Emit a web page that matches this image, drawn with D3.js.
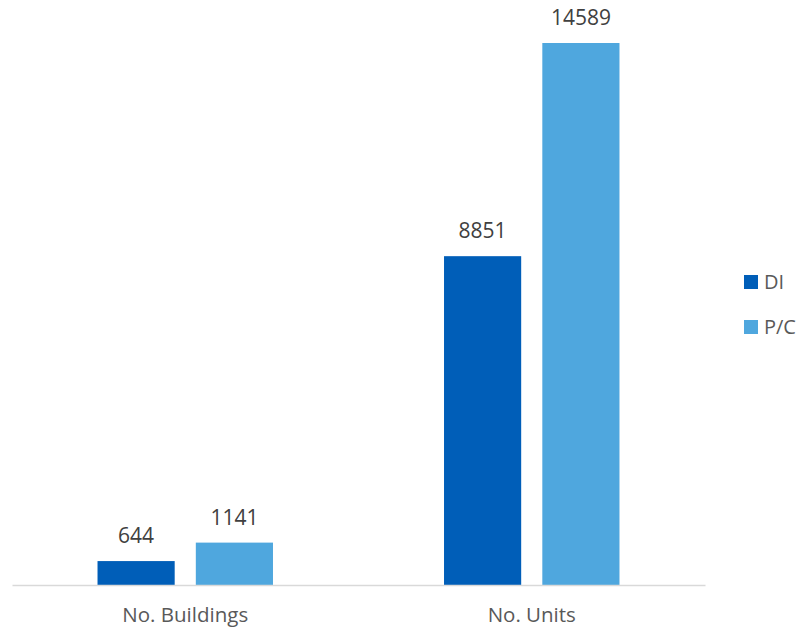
<!DOCTYPE html>
<html>
<head>
<meta charset="utf-8">
<script src="https://cdn.jsdelivr.net/npm/d3@7"></script>
<style>
  html, body { margin: 0; padding: 0; background: #fff; }
  svg { display: block; font-family: "Open Sans", "Noto Sans", sans-serif; }
</style>
</head>
<body>
<svg id="chart" width="799" height="632"></svg>
<script>
const categories = ["No. Buildings", "No. Units"];
const seriesNames = ["DI", "P/C"];
const diValues = [644, 8851];
const pcValues = [1141, 14589];
const seriesColors = ["#005EB8", "#4FA7DE"];

const svg = d3.select("#chart");
const plot = { left: 12, right: 705, top: 43, bottom: 585 };

const x0 = d3.scaleBand().domain(categories).range([plot.left, plot.right]).paddingInner(0).paddingOuter(0);
const x1 = d3.scaleBand().domain(seriesNames).range([0, x0.bandwidth()]).paddingInner(0.215).paddingOuter(0.87);
const y = d3.scaleLinear().domain([0, 14589]).range([plot.bottom, plot.top]);

const data = categories.map((c, i) => ({
  category: c,
  values: [
    { series: "DI", value: diValues[i], color: seriesColors[0] },
    { series: "P/C", value: pcValues[i], color: seriesColors[1] }
  ]
}));

const groups = svg.selectAll("g.cat").data(data).join("g")
  .attr("class", "cat")
  .attr("transform", d => `translate(${x0(d.category)},0)`);

groups.selectAll("rect").data(d => d.values).join("rect")
  .attr("x", d => x1(d.series))
  .attr("width", x1.bandwidth())
  .attr("y", d => y(d.value))
  .attr("height", d => y(0) - y(d.value))
  .attr("fill", d => d.color);

groups.selectAll("text.val").data(d => d.values).join("text")
  .attr("class", "val")
  .attr("x", d => x1(d.series) + x1.bandwidth() / 2)
  .attr("y", d => y(d.value) - 18)
  .attr("text-anchor", "middle")
  .attr("font-size", 21)
  .attr("fill", "#404040")
  .text(d => d.value);

// axis
const xAxis = d3.axisBottom(x0).tickSize(0).tickPadding(22);
const ax = svg.append("g").attr("transform", `translate(0,${plot.bottom})`).call(xAxis);
ax.select(".domain").attr("stroke", "#D9D9D9").attr("stroke-width", 1.5);
ax.selectAll("text").attr("font-size", 20.5).attr("fill", "#595959").attr("font-family", "\"Open Sans\", sans-serif");

// legend
const legend = svg.append("g").attr("transform", "translate(744,275)");
const li = legend.selectAll("g").data(seriesNames).join("g")
  .attr("transform", (d, i) => `translate(0,${i * 45})`);
li.append("rect").attr("width", 14).attr("height", 14).attr("fill", (d, i) => seriesColors[i]);
li.append("text").attr("x", 20).attr("y", 7).attr("dy", "0.35em")
  .attr("font-size", 20).attr("fill", "#595959").text(d => d);
</script>
</body>
</html>
